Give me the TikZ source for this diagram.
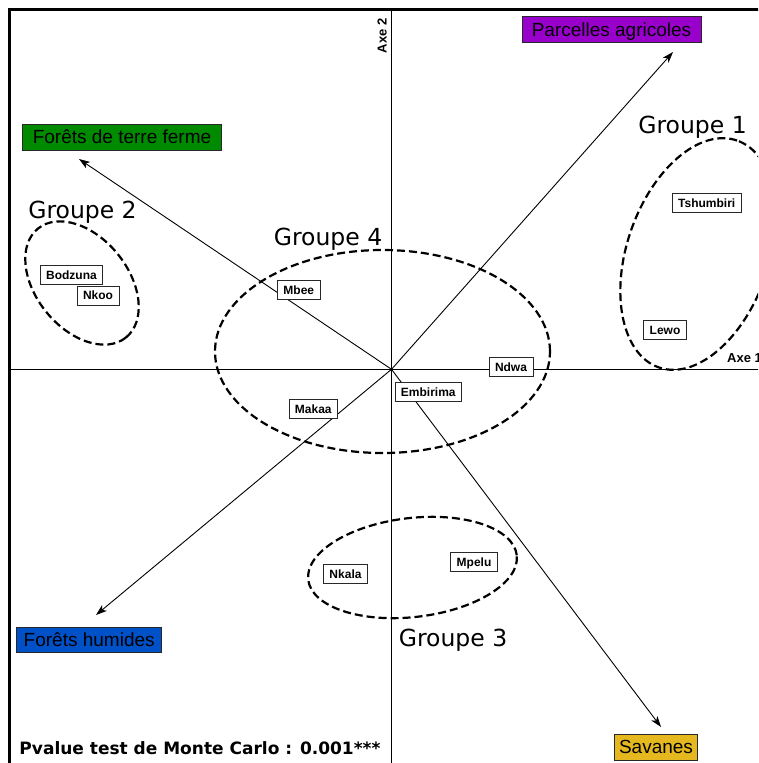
\documentclass[tikz,border=0pt]{standalone}
\usepackage{fontspec}
\setmainfont{Liberation Sans}
\newfontfamily\dejavu{DejaVu Sans}
\usetikzlibrary{shapes.geometric,arrows.meta}
\definecolor{cpurple}{RGB}{153,0,204}
\definecolor{cgreen}{RGB}{0,138,0}
\definecolor{cblue}{RGB}{0,80,200}
\definecolor{cgold}{RGB}{230,184,32}
\definecolor{boxline}{RGB}{40,40,40}
\begin{document}
\begin{tikzpicture}[x=1pt,y=-1pt,
  site/.style={draw=boxline, line width=0.8pt, fill=white,
    font=\fontsize{12}{14}\selectfont\bfseries, inner xsep=6pt, inner ysep=0pt,
    text height=8.7pt, text depth=0pt, minimum height=19pt},
  env/.style={draw=boxline, line width=0.8pt,
    font=\fontsize{19}{22}\selectfont, inner sep=0pt,
    text height=13.6pt, text depth=0pt, minimum height=26pt},
  grp/.style={font=\dejavu\fontsize{23.5}{28}\selectfont, inner sep=0pt, anchor=base},
  grpell/.style={ellipse, draw=black, line width=2.2pt, dash pattern=on 8pt off 4pt, inner sep=0pt},
  vec/.style={line width=0.9pt, -{Stealth[length=11pt,width=7.5pt,inset=3pt]}},
  axisline/.style={line width=1.2pt},
  axe/.style={font=\fontsize{13}{15}\selectfont\bfseries, inner sep=0pt}
]
\useasboundingbox (0,0) rectangle (758,763);
\clip (0,0) rectangle (758,763);

% frame
\coordinate (fBL) at (9.5,775);
\coordinate (fTL) at (9.5,9.5);
\coordinate (fTR) at (775,9.5);
\draw[line width=2.8pt] (fBL) -- (fTL) -- (fTR);

% axes
\coordinate (O) at (391.5,369.3);
\coordinate (xL) at (9.5,369.3);
\coordinate (xR) at (775,369.3);
\coordinate (yT) at (391.5,9.5);
\coordinate (yB) at (391.5,775);
\draw[axisline] (xL) -- (xR);
\draw[axisline] (yT) -- (yB);
\node[axe, rotate=90, anchor=base] (ax2) at (386.7,36) {Axe 2};
\node[axe, anchor=base west] (ax1) at (727,362.7) {Axe 1};

% group ellipses
\node[grpell, minimum width=240pt, minimum height=142pt, rotate=71] (e1) at (698,254) {};
\node[grpell, minimum width=140pt, minimum height=92pt, rotate=-51] (e2) at (82,283) {};
\node[grpell, minimum width=210pt, minimum height=99pt, rotate=6.7] (e3) at (412.5,567.5) {};
\node[grpell, minimum width=335pt, minimum height=203pt] (e4) at (382.5,351.5) {};

% group labels
\node[grp] (g1) at (692.5,133) {Groupe 1};
\node[grp] (g2) at (82.5,218) {Groupe 2};
\node[grp] (g3) at (453,646) {Groupe 3};
\node[grp] (g4) at (328,245) {Groupe 4};

% vectors
\coordinate (tP) at (673,52);
\coordinate (tF) at (79,159);
\coordinate (tH) at (96,615);
\coordinate (tS) at (661,727);
\draw[vec] (O) -- (tP);
\draw[vec] (O) -- (tF);
\draw[vec] (O) -- (tH);
\draw[vec] (O) -- (tS);

% environment labels
\node[env, fill=cpurple, minimum width=179pt] (parc) at (611.5,29.7) {Parcelles agricoles};
\node[env, fill=cgreen, minimum width=198.6pt] (fterre) at (122,137) {Forêts de terre ferme};
\node[env, fill=cblue, minimum width=145pt, minimum height=25pt] (fhum) at (89.2,639.8) {Forêts humides};
\node[env, fill=cgold, minimum width=83.4pt] (sav) at (656,747) {Savanes};

% sites
\node[site] (tsh) at (706.7,202.8) {Tshumbiri};
\node[site] (lew) at (665,330.3) {Lewo};
\node[site] (bod) at (71.5,274.8) {Bodzuna};
\node[site] (nko) at (98,295.5) {Nkoo};
\node[site] (mbe) at (298.8,290.3) {Mbee};
\node[site] (ndw) at (511,367) {Ndwa};
\node[site] (emb) at (428.3,392.2) {Embirima};
\node[site] (mak) at (313.3,409) {Makaa};
\node[site] (nka) at (345.5,574) {Nkala};
\node[site] (mpe) at (474,562) {Mpelu};

% p-value
\node[font=\dejavu\bfseries\fontsize{17}{20}\selectfont, anchor=base west, inner sep=0pt] (pv) at (19.3,754) {Pvalue test de Monte Carlo : 0.001***};
\end{tikzpicture}
\end{document}
